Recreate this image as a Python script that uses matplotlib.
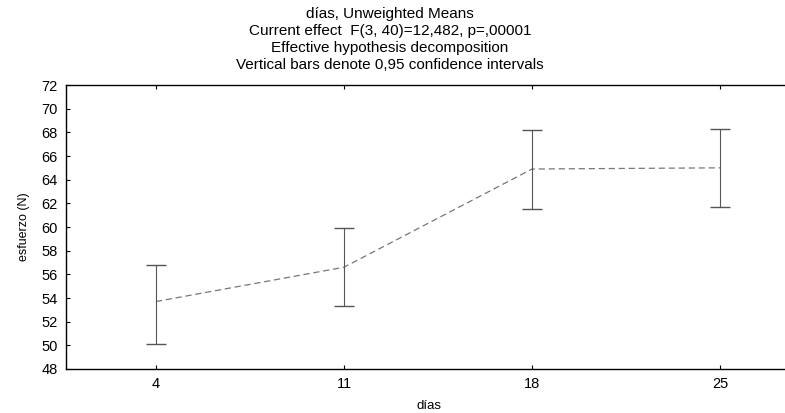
import matplotlib
matplotlib.use("Agg")
import matplotlib.pyplot as plt
import numpy as np

plt.rcParams['font.family'] = ['Liberation Sans', 'DejaVu Sans']

dias = ["4", "11", "18", "25"]
means = [53.7, 56.6, 64.9, 65.0]
ci_low = [50.1, 53.3, 61.5, 61.7]
ci_high = [56.8, 59.9, 68.2, 68.3]
yticks = [48, 50, 52, 54, 56, 58, 60, 62, 64, 66, 68, 70, 72]
title_lines = ["días, Unweighted Means",
               "Current effect  F(3, 40)=12,482, p=,00001",
               "Effective hypothesis decomposition",
               "Vertical bars denote 0,95 confidence intervals"]

fig = plt.figure(figsize=(7.85, 4.13), dpi=100)
ax = fig.add_axes([66/785, 44/413, 1 - 66/785 + 0.01, (369-85)/413])

x = np.arange(len(dias))
m = np.array(means)
lo = m - np.array(ci_low)
hi = np.array(ci_high) - m

ax.plot(x, m, color='#777777', lw=0.9, ls=(0, (5, 3)))
ax.errorbar(x, m, yerr=[lo, hi], fmt='none', ecolor='#555555',
            elinewidth=0.8, capsize=7, capthick=1.0)

ax.set_xlim(-0.478, 3.387)
ax.set_ylim(48, 72)
ax.set_xticks(x)
ax.set_xticklabels(dias)
ax.set_yticks(yticks)
ax.tick_params(axis='both', direction='in', length=3, width=0.8,
               labelsize=10.5, top=True, right=False, pad=6)
for s in ['left', 'bottom', 'top']:
    ax.spines[s].set_linewidth(1.0)
    ax.spines[s].set_color('black')
ax.spines['right'].set_visible(False)

ax.set_xlabel("días", fontsize=9.5, labelpad=6)
ax.set_ylabel("esfuerzo (N)", fontsize=9, labelpad=8)

for i, t in enumerate(title_lines):
    fig.text(390 / 785, 1 - (14 + 17 * i) / 413, t, ha='center', va='center',
             fontsize=11)

fig.savefig("out.png", dpi=100, facecolor='white')
